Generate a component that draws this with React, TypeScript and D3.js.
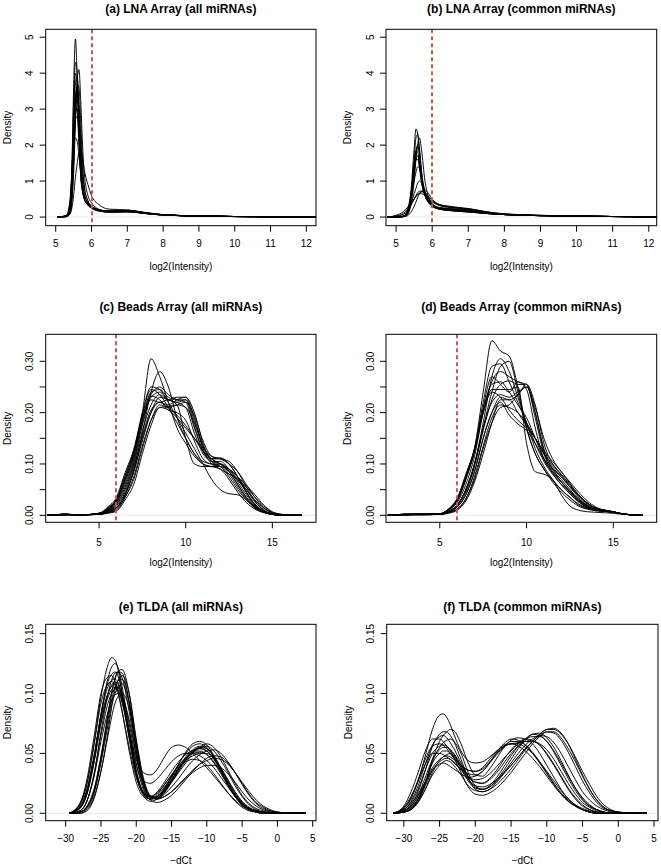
import React from "react";
import * as d3 from "d3";

// ---------- Panel (a): LNA Array, all miRNAs ----------
const gridA = [5.05, 5.3, 5.4, 5.45, 5.5, 5.55, 5.6, 5.65, 5.7, 5.75, 5.8, 5.9, 6.0, 6.2, 6.5, 7.0, 7.5, 8.0, 9.0, 10.0, 11.0, 12.3];
const curvesA = [
  [0, 0.02, 0.3, 1.4, 3.6, 4.95, 3.9, 2.2, 1.1, 0.7, 0.5, 0.35, 0.27, 0.18, 0.13, 0.14, 0.1, 0.055, 0.028, 0.014, 0.009, 0.004],
  [0, 0.01, 0.1, 0.4, 1.2, 2.6, 3.8, 4.1, 3.2, 2.0, 1.2, 0.6, 0.4, 0.22, 0.15, 0.15, 0.1, 0.055, 0.028, 0.014, 0.009, 0.004],
  [0, 0.02, 0.3, 1.2, 3.2, 4.3, 4.0, 2.5, 1.2, 0.7, 0.5, 0.33, 0.25, 0.17, 0.14, 0.15, 0.1, 0.055, 0.028, 0.014, 0.009, 0.004],
  [0, 0.03, 0.35, 1.1, 2.5, 3.4, 3.6, 2.6, 1.4, 0.8, 0.55, 0.35, 0.27, 0.18, 0.15, 0.17, 0.11, 0.06, 0.03, 0.015, 0.009, 0.004],
  [0, 0.04, 0.4, 1.2, 2.4, 3.1, 2.9, 2.0, 1.2, 0.75, 0.5, 0.35, 0.27, 0.19, 0.16, 0.18, 0.12, 0.06, 0.03, 0.015, 0.009, 0.004],
  [0, 0.02, 0.2, 0.6, 1.6, 2.8, 3.3, 3.1, 2.2, 1.3, 0.8, 0.45, 0.3, 0.2, 0.16, 0.17, 0.11, 0.06, 0.03, 0.015, 0.009, 0.004],
  [0, 0.03, 0.3, 0.9, 1.9, 2.7, 2.8, 2.3, 1.5, 0.9, 0.6, 0.4, 0.3, 0.2, 0.17, 0.19, 0.12, 0.065, 0.03, 0.015, 0.009, 0.004],
  [0, 0.01, 0.08, 0.25, 0.6, 1.1, 1.5, 1.8, 1.85, 1.6, 1.3, 0.9, 0.6, 0.35, 0.22, 0.2, 0.13, 0.07, 0.032, 0.016, 0.01, 0.004],
  [0, 0.05, 0.5, 1.2, 1.9, 2.2, 2.1, 1.7, 1.2, 0.8, 0.55, 0.38, 0.3, 0.2, 0.17, 0.18, 0.12, 0.065, 0.03, 0.015, 0.009, 0.004],
  [0, 0.02, 0.2, 0.8, 2.4, 3.7, 3.9, 3.0, 1.6, 0.9, 0.55, 0.33, 0.25, 0.17, 0.14, 0.15, 0.1, 0.055, 0.028, 0.014, 0.009, 0.004],
  [0, 0.03, 0.25, 0.9, 2.2, 3.3, 3.5, 2.9, 1.8, 1.0, 0.6, 0.38, 0.28, 0.19, 0.16, 0.17, 0.11, 0.06, 0.03, 0.015, 0.009, 0.004],
  [0, 0.01, 0.12, 0.5, 1.5, 2.9, 3.7, 3.6, 2.6, 1.5, 0.85, 0.45, 0.3, 0.2, 0.16, 0.16, 0.105, 0.058, 0.029, 0.015, 0.009, 0.004],
  [0, 0.02, 0.25, 1.0, 2.8, 4.0, 3.7, 2.3, 1.2, 0.75, 0.5, 0.34, 0.26, 0.18, 0.15, 0.16, 0.105, 0.058, 0.029, 0.015, 0.009, 0.004],
  [0, 0.02, 0.2, 0.7, 2.0, 3.2, 3.4, 2.7, 1.6, 0.95, 0.6, 0.38, 0.28, 0.19, 0.16, 0.17, 0.11, 0.06, 0.03, 0.015, 0.009, 0.004],
  [0, 0.03, 0.3, 1.0, 2.2, 2.9, 3.0, 2.4, 1.5, 0.9, 0.6, 0.4, 0.3, 0.2, 0.17, 0.18, 0.12, 0.063, 0.03, 0.015, 0.009, 0.004],
];

// ---------- Panel (b): LNA Array, common miRNAs ----------
const gridB = [4.75, 5.0, 5.2, 5.3, 5.4, 5.5, 5.55, 5.6, 5.65, 5.7, 5.8, 5.9, 6.0, 6.2, 6.5, 7.0, 7.5, 8.0, 9.0, 10.0, 11.0, 12.3];
const curvesB = [
  [0, 0, 0.02, 0.1, 0.6, 1.9, 2.45, 2.3, 1.7, 1.1, 0.6, 0.4, 0.3, 0.22, 0.18, 0.14, 0.1, 0.07, 0.04, 0.025, 0.015, 0.005],
  [0, 0, 0.01, 0.05, 0.3, 1.0, 1.6, 2.05, 2.2, 1.9, 1.0, 0.55, 0.35, 0.22, 0.18, 0.15, 0.1, 0.07, 0.04, 0.025, 0.015, 0.005],
  [0, 0, 0.02, 0.1, 0.5, 1.4, 1.85, 2.0, 1.7, 1.2, 0.65, 0.42, 0.32, 0.23, 0.2, 0.16, 0.1, 0.07, 0.04, 0.025, 0.015, 0.005],
  [0, 0, 0.03, 0.15, 0.6, 1.3, 1.6, 1.7, 1.5, 1.1, 0.65, 0.45, 0.33, 0.25, 0.22, 0.18, 0.11, 0.07, 0.04, 0.025, 0.015, 0.005],
  [0, 0, 0.03, 0.12, 0.45, 1.0, 1.25, 1.4, 1.35, 1.1, 0.7, 0.45, 0.35, 0.25, 0.22, 0.19, 0.12, 0.07, 0.04, 0.025, 0.015, 0.005],
  [0, 0, 0.02, 0.08, 0.3, 0.65, 0.8, 0.95, 1.0, 0.95, 0.7, 0.5, 0.37, 0.27, 0.24, 0.2, 0.12, 0.07, 0.04, 0.025, 0.015, 0.005],
  [0, 0.05, 0.15, 0.25, 0.38, 0.5, 0.57, 0.63, 0.67, 0.7, 0.68, 0.58, 0.47, 0.35, 0.28, 0.22, 0.14, 0.08, 0.045, 0.03, 0.015, 0.005],
  [0, 0.03, 0.1, 0.2, 0.35, 0.5, 0.58, 0.63, 0.65, 0.65, 0.6, 0.5, 0.42, 0.32, 0.27, 0.24, 0.15, 0.09, 0.05, 0.03, 0.015, 0.005],
  [0, 0, 0.01, 0.03, 0.12, 0.3, 0.42, 0.55, 0.65, 0.72, 0.75, 0.65, 0.5, 0.35, 0.3, 0.23, 0.14, 0.08, 0.045, 0.03, 0.015, 0.005],
  [0, 0, 0.01, 0.06, 0.45, 1.6, 2.2, 2.3, 1.9, 1.3, 0.65, 0.4, 0.3, 0.22, 0.18, 0.14, 0.1, 0.07, 0.04, 0.025, 0.015, 0.005],
  [0, 0, 0.02, 0.1, 0.55, 1.5, 1.85, 1.8, 1.4, 1.0, 0.6, 0.42, 0.33, 0.24, 0.21, 0.16, 0.1, 0.07, 0.04, 0.025, 0.015, 0.005],
  [0, 0, 0.015, 0.08, 0.4, 1.2, 1.7, 1.95, 1.8, 1.3, 0.7, 0.45, 0.33, 0.24, 0.2, 0.17, 0.11, 0.07, 0.04, 0.025, 0.015, 0.005],
  [0, 0, 0.02, 0.1, 0.5, 1.3, 1.6, 1.6, 1.35, 1.0, 0.6, 0.42, 0.33, 0.24, 0.21, 0.17, 0.11, 0.07, 0.04, 0.025, 0.015, 0.005],
  [0, 0.02, 0.08, 0.15, 0.3, 0.5, 0.6, 0.68, 0.72, 0.72, 0.66, 0.55, 0.45, 0.33, 0.27, 0.22, 0.14, 0.085, 0.045, 0.03, 0.015, 0.005],
];

// ---------- Panel (c): Beads Array, all miRNAs ----------
const gridC = [2.0, 3.0, 4.0, 5.0, 5.5, 6.0, 6.5, 7.0, 7.5, 8.0, 8.5, 9.0, 9.5, 10.0, 10.5, 11.0, 11.5, 12.0, 12.5, 13.0, 13.5, 14.0, 14.5, 15.0, 15.5, 16.0, 16.7];
const curvesC = [
  [0, 0.002, 0.001, 0.004, 0.014, 0.03, 0.07, 0.12, 0.2, 0.305, 0.27, 0.22, 0.17, 0.14, 0.115, 0.1, 0.095, 0.09, 0.07, 0.045, 0.025, 0.012, 0.005, 0.002, 0, 0, 0],
  [0, 0.002, 0.001, 0.003, 0.007, 0.015, 0.04, 0.09, 0.16, 0.24, 0.28, 0.25, 0.19, 0.15, 0.12, 0.105, 0.1, 0.095, 0.075, 0.05, 0.03, 0.014, 0.006, 0.002, 0, 0, 0],
  [0, 0.002, 0.001, 0.004, 0.016, 0.035, 0.083, 0.128, 0.2, 0.25, 0.245, 0.225, 0.22, 0.21, 0.16, 0.12, 0.105, 0.1, 0.085, 0.06, 0.035, 0.015, 0.006, 0.002, 0, 0, 0],
  [0, 0.002, 0.001, 0.003, 0.011, 0.025, 0.065, 0.115, 0.185, 0.24, 0.245, 0.23, 0.225, 0.225, 0.175, 0.125, 0.105, 0.105, 0.09, 0.065, 0.04, 0.018, 0.007, 0.002, 0, 0, 0],
  [0, 0.002, 0.001, 0.003, 0.009, 0.02, 0.05, 0.1, 0.165, 0.215, 0.235, 0.225, 0.23, 0.23, 0.19, 0.135, 0.11, 0.11, 0.1, 0.075, 0.045, 0.02, 0.008, 0.002, 0, 0, 0],
  [0, 0.001, 0.001, 0.002, 0.005, 0.01, 0.035, 0.07, 0.13, 0.185, 0.215, 0.21, 0.215, 0.22, 0.195, 0.145, 0.115, 0.11, 0.105, 0.085, 0.055, 0.028, 0.011, 0.003, 0.001, 0, 0],
  [0, 0.001, 0.001, 0.002, 0.004, 0.008, 0.03, 0.06, 0.12, 0.175, 0.21, 0.205, 0.19, 0.17, 0.15, 0.13, 0.115, 0.11, 0.1, 0.085, 0.06, 0.035, 0.015, 0.005, 0.001, 0, 0],
  [0, 0.002, 0.001, 0.003, 0.011, 0.025, 0.06, 0.11, 0.18, 0.23, 0.24, 0.22, 0.19, 0.16, 0.13, 0.1, 0.07, 0.05, 0.042, 0.04, 0.03, 0.016, 0.006, 0.002, 0, 0, 0],
  [0, 0.002, 0.001, 0.004, 0.013, 0.03, 0.075, 0.125, 0.19, 0.225, 0.22, 0.225, 0.215, 0.15, 0.1, 0.095, 0.095, 0.1, 0.09, 0.07, 0.045, 0.022, 0.009, 0.003, 0.001, 0, 0],
  [0, 0.001, 0.001, 0.002, 0.007, 0.015, 0.04, 0.085, 0.145, 0.2, 0.23, 0.225, 0.22, 0.225, 0.185, 0.13, 0.1, 0.09, 0.08, 0.07, 0.055, 0.035, 0.018, 0.006, 0.002, 0, 0],
  [0, 0.001, 0.001, 0.003, 0.008, 0.018, 0.045, 0.095, 0.155, 0.205, 0.22, 0.21, 0.195, 0.175, 0.15, 0.125, 0.11, 0.1, 0.09, 0.075, 0.058, 0.04, 0.02, 0.007, 0.002, 0, 0],
  [0, 0.002, 0.001, 0.003, 0.012, 0.028, 0.07, 0.12, 0.19, 0.232, 0.225, 0.205, 0.2, 0.185, 0.145, 0.11, 0.1, 0.1, 0.085, 0.06, 0.035, 0.016, 0.006, 0.002, 0, 0, 0],
  [0, 0.002, 0.001, 0.003, 0.01, 0.022, 0.055, 0.105, 0.175, 0.235, 0.25, 0.235, 0.225, 0.22, 0.17, 0.125, 0.11, 0.112, 0.1, 0.075, 0.045, 0.02, 0.008, 0.002, 0, 0, 0],
  [0, 0.001, 0.001, 0.002, 0.006, 0.014, 0.04, 0.085, 0.15, 0.2, 0.22, 0.215, 0.225, 0.23, 0.2, 0.14, 0.105, 0.095, 0.09, 0.075, 0.05, 0.026, 0.01, 0.003, 0.001, 0, 0],
  [0, 0.002, 0.001, 0.004, 0.014, 0.032, 0.078, 0.125, 0.195, 0.245, 0.235, 0.21, 0.18, 0.15, 0.12, 0.1, 0.095, 0.095, 0.08, 0.055, 0.032, 0.015, 0.006, 0.002, 0, 0, 0],
  [0, 0.001, 0.001, 0.002, 0.005, 0.012, 0.035, 0.075, 0.135, 0.185, 0.21, 0.212, 0.215, 0.21, 0.18, 0.135, 0.11, 0.1, 0.085, 0.068, 0.05, 0.03, 0.014, 0.005, 0.001, 0, 0],
];

// ---------- Panel (d): Beads Array, common miRNAs ----------
const gridD = [2.0, 3.0, 4.0, 5.0, 5.5, 6.0, 6.5, 7.0, 7.5, 8.0, 8.5, 9.0, 9.5, 10.0, 10.5, 11.0, 11.5, 12.0, 12.5, 13.0, 13.5, 14.0, 14.5, 15.0, 15.5, 16.0, 16.7];
const curvesD = [
  [0, 0.002, 0.003, 0.003, 0.012, 0.03, 0.075, 0.13, 0.24, 0.34, 0.32, 0.31, 0.25, 0.17, 0.12, 0.09, 0.065, 0.045, 0.03, 0.018, 0.012, 0.009, 0.008, 0.006, 0.003, 0.001, 0],
  [0, 0.002, 0.002, 0.003, 0.008, 0.02, 0.05, 0.1, 0.18, 0.27, 0.305, 0.28, 0.23, 0.18, 0.13, 0.095, 0.07, 0.05, 0.035, 0.02, 0.013, 0.009, 0.008, 0.006, 0.003, 0.001, 0],
  [0, 0.002, 0.002, 0.003, 0.012, 0.033, 0.08, 0.13, 0.22, 0.29, 0.295, 0.26, 0.22, 0.18, 0.14, 0.105, 0.08, 0.06, 0.042, 0.027, 0.016, 0.01, 0.008, 0.006, 0.003, 0.001, 0],
  [0, 0.002, 0.002, 0.003, 0.01, 0.025, 0.06, 0.115, 0.2, 0.26, 0.28, 0.27, 0.26, 0.255, 0.19, 0.12, 0.085, 0.065, 0.048, 0.03, 0.018, 0.011, 0.008, 0.006, 0.003, 0.001, 0],
  [0, 0.001, 0.002, 0.002, 0.007, 0.018, 0.045, 0.095, 0.165, 0.225, 0.255, 0.262, 0.255, 0.255, 0.2, 0.13, 0.095, 0.075, 0.055, 0.035, 0.02, 0.012, 0.009, 0.007, 0.003, 0.001, 0],
  [0, 0.002, 0.002, 0.003, 0.01, 0.028, 0.07, 0.125, 0.2, 0.245, 0.245, 0.245, 0.25, 0.14, 0.085, 0.08, 0.07, 0.04, 0.018, 0.01, 0.007, 0.006, 0.005, 0.004, 0.002, 0.001, 0],
  [0, 0.001, 0.002, 0.002, 0.006, 0.016, 0.04, 0.085, 0.15, 0.2, 0.22, 0.195, 0.178, 0.165, 0.14, 0.11, 0.09, 0.075, 0.055, 0.038, 0.024, 0.014, 0.01, 0.007, 0.003, 0.001, 0],
  [0, 0.001, 0.002, 0.002, 0.007, 0.02, 0.05, 0.1, 0.17, 0.22, 0.235, 0.23, 0.24, 0.25, 0.2, 0.125, 0.09, 0.07, 0.05, 0.032, 0.019, 0.011, 0.008, 0.006, 0.003, 0.001, 0],
  [0, 0.001, 0.001, 0.002, 0.005, 0.012, 0.032, 0.07, 0.13, 0.18, 0.21, 0.215, 0.235, 0.25, 0.21, 0.15, 0.11, 0.085, 0.065, 0.045, 0.028, 0.016, 0.01, 0.007, 0.003, 0.001, 0],
  [0, 0.002, 0.002, 0.003, 0.012, 0.033, 0.078, 0.13, 0.2, 0.24, 0.23, 0.205, 0.185, 0.17, 0.15, 0.12, 0.09, 0.065, 0.045, 0.03, 0.018, 0.011, 0.008, 0.006, 0.003, 0.001, 0],
  [0, 0.002, 0.002, 0.003, 0.01, 0.028, 0.07, 0.125, 0.21, 0.27, 0.255, 0.24, 0.26, 0.245, 0.17, 0.11, 0.085, 0.065, 0.045, 0.028, 0.016, 0.01, 0.008, 0.006, 0.003, 0.001, 0],
  [0, 0.001, 0.001, 0.002, 0.004, 0.01, 0.028, 0.065, 0.12, 0.18, 0.225, 0.225, 0.2, 0.175, 0.15, 0.125, 0.105, 0.085, 0.062, 0.04, 0.024, 0.014, 0.01, 0.007, 0.003, 0.001, 0],
  [0, 0.001, 0.002, 0.002, 0.008, 0.02, 0.05, 0.1, 0.17, 0.24, 0.29, 0.3, 0.24, 0.17, 0.12, 0.09, 0.068, 0.05, 0.035, 0.022, 0.014, 0.01, 0.008, 0.006, 0.003, 0.001, 0],
  [0, 0.001, 0.002, 0.002, 0.006, 0.016, 0.04, 0.085, 0.15, 0.2, 0.23, 0.225, 0.235, 0.255, 0.215, 0.14, 0.1, 0.078, 0.058, 0.038, 0.022, 0.013, 0.009, 0.007, 0.003, 0.001, 0],
  [0, 0.002, 0.002, 0.003, 0.011, 0.03, 0.072, 0.125, 0.205, 0.255, 0.26, 0.24, 0.215, 0.19, 0.15, 0.11, 0.082, 0.06, 0.042, 0.026, 0.015, 0.01, 0.008, 0.006, 0.003, 0.001, 0],
  [0, 0.001, 0.001, 0.002, 0.005, 0.012, 0.032, 0.075, 0.135, 0.19, 0.215, 0.21, 0.2, 0.18, 0.15, 0.12, 0.1, 0.08, 0.06, 0.04, 0.024, 0.014, 0.01, 0.007, 0.003, 0.001, 0],
];

// ---------- Panel (e): TLDA, all miRNAs ----------
const gridE = [-29.5, -28, -27, -26, -25, -24, -23.5, -23, -22.5, -22, -21, -20, -19, -18, -17, -16, -15, -14, -13, -12, -11, -10, -9, -8, -7, -6, -5, -4, -3, -2, -1, 0, 2, 4];
const curvesE = [
  [0, 0.008, 0.025, 0.058, 0.097, 0.124, 0.13, 0.128, 0.118, 0.1, 0.062, 0.032, 0.016, 0.012, 0.015, 0.022, 0.03, 0.038, 0.044, 0.048, 0.05, 0.05, 0.046, 0.038, 0.028, 0.018, 0.01, 0.005, 0.002, 0.001, 0, 0, 0, 0],
  [0, 0.005, 0.018, 0.045, 0.082, 0.113, 0.122, 0.125, 0.12, 0.106, 0.07, 0.036, 0.017, 0.012, 0.014, 0.02, 0.028, 0.037, 0.045, 0.051, 0.054, 0.052, 0.046, 0.036, 0.025, 0.015, 0.008, 0.004, 0.002, 0.001, 0, 0, 0, 0],
  [0, 0.001, 0.006, 0.02, 0.048, 0.083, 0.1, 0.112, 0.118, 0.117, 0.092, 0.052, 0.024, 0.013, 0.014, 0.021, 0.031, 0.041, 0.05, 0.056, 0.058, 0.055, 0.047, 0.036, 0.024, 0.014, 0.007, 0.003, 0.001, 0, 0, 0, 0, 0],
  [0, 0, 0.002, 0.012, 0.035, 0.068, 0.088, 0.103, 0.112, 0.115, 0.1, 0.062, 0.03, 0.015, 0.013, 0.018, 0.026, 0.035, 0.044, 0.051, 0.055, 0.056, 0.052, 0.044, 0.034, 0.023, 0.014, 0.007, 0.003, 0.001, 0, 0, 0, 0],
  [0, 0.006, 0.02, 0.048, 0.08, 0.1, 0.106, 0.108, 0.104, 0.094, 0.068, 0.045, 0.034, 0.032, 0.037, 0.047, 0.055, 0.057, 0.055, 0.05, 0.044, 0.038, 0.031, 0.024, 0.017, 0.011, 0.006, 0.003, 0.001, 0, 0, 0, 0, 0],
  [0, 0.004, 0.016, 0.042, 0.076, 0.1, 0.107, 0.11, 0.107, 0.097, 0.068, 0.04, 0.027, 0.025, 0.029, 0.036, 0.043, 0.048, 0.05, 0.05, 0.048, 0.044, 0.038, 0.03, 0.022, 0.014, 0.008, 0.004, 0.002, 0.001, 0, 0, 0, 0],
  [0, 0.002, 0.01, 0.03, 0.06, 0.085, 0.094, 0.099, 0.1, 0.097, 0.078, 0.048, 0.025, 0.014, 0.012, 0.014, 0.018, 0.023, 0.029, 0.034, 0.038, 0.04, 0.04, 0.038, 0.033, 0.026, 0.018, 0.011, 0.006, 0.003, 0.001, 0, 0, 0],
  [0, 0.004, 0.016, 0.045, 0.082, 0.106, 0.111, 0.112, 0.108, 0.096, 0.064, 0.032, 0.015, 0.01, 0.012, 0.02, 0.03, 0.041, 0.051, 0.058, 0.06, 0.057, 0.048, 0.036, 0.024, 0.014, 0.007, 0.003, 0.001, 0, 0, 0, 0, 0],
  [0, 0.002, 0.01, 0.032, 0.065, 0.092, 0.1, 0.104, 0.105, 0.1, 0.075, 0.042, 0.02, 0.012, 0.012, 0.016, 0.022, 0.029, 0.037, 0.044, 0.049, 0.052, 0.053, 0.05, 0.043, 0.034, 0.024, 0.015, 0.008, 0.004, 0.002, 0.001, 0, 0],
  [0, 0.008, 0.028, 0.063, 0.1, 0.114, 0.115, 0.11, 0.1, 0.085, 0.052, 0.026, 0.014, 0.012, 0.016, 0.024, 0.032, 0.039, 0.043, 0.045, 0.044, 0.04, 0.033, 0.025, 0.017, 0.01, 0.005, 0.002, 0.001, 0, 0, 0, 0, 0],
  [0, 0.002, 0.01, 0.032, 0.068, 0.1, 0.111, 0.117, 0.118, 0.113, 0.085, 0.048, 0.022, 0.011, 0.009, 0.011, 0.015, 0.021, 0.028, 0.035, 0.041, 0.046, 0.048, 0.047, 0.042, 0.034, 0.025, 0.016, 0.009, 0.005, 0.002, 0.001, 0, 0],
  [0, 0.001, 0.004, 0.016, 0.042, 0.074, 0.09, 0.1, 0.106, 0.108, 0.092, 0.056, 0.026, 0.013, 0.012, 0.017, 0.026, 0.036, 0.045, 0.052, 0.055, 0.054, 0.048, 0.038, 0.027, 0.017, 0.009, 0.004, 0.002, 0.001, 0, 0, 0, 0],
  [0, 0.001, 0.005, 0.018, 0.046, 0.082, 0.1, 0.113, 0.119, 0.12, 0.1, 0.06, 0.028, 0.014, 0.013, 0.018, 0.027, 0.037, 0.046, 0.052, 0.054, 0.052, 0.045, 0.035, 0.024, 0.015, 0.008, 0.004, 0.002, 0.001, 0, 0, 0, 0],
  [0, 0.004, 0.016, 0.042, 0.075, 0.097, 0.103, 0.105, 0.102, 0.092, 0.064, 0.034, 0.017, 0.012, 0.014, 0.019, 0.026, 0.034, 0.042, 0.05, 0.055, 0.058, 0.055, 0.047, 0.036, 0.025, 0.015, 0.008, 0.004, 0.002, 0.001, 0, 0, 0],
  [0, 0.001, 0.005, 0.018, 0.045, 0.078, 0.094, 0.106, 0.111, 0.112, 0.094, 0.057, 0.027, 0.014, 0.013, 0.019, 0.028, 0.038, 0.047, 0.053, 0.056, 0.054, 0.047, 0.037, 0.026, 0.016, 0.009, 0.004, 0.002, 0.001, 0, 0, 0, 0],
  [0, 0.005, 0.018, 0.046, 0.083, 0.11, 0.116, 0.118, 0.113, 0.1, 0.067, 0.035, 0.018, 0.014, 0.017, 0.024, 0.032, 0.04, 0.046, 0.05, 0.051, 0.049, 0.043, 0.034, 0.024, 0.015, 0.008, 0.004, 0.002, 0.001, 0, 0, 0, 0],
  [0, 0, 0.003, 0.013, 0.035, 0.065, 0.08, 0.092, 0.098, 0.1, 0.088, 0.055, 0.027, 0.014, 0.012, 0.014, 0.018, 0.024, 0.03, 0.036, 0.041, 0.044, 0.046, 0.045, 0.041, 0.034, 0.026, 0.018, 0.011, 0.006, 0.003, 0.001, 0, 0],
  [0, 0.007, 0.024, 0.056, 0.092, 0.108, 0.11, 0.107, 0.098, 0.085, 0.055, 0.03, 0.017, 0.014, 0.018, 0.026, 0.035, 0.043, 0.049, 0.052, 0.052, 0.049, 0.042, 0.033, 0.023, 0.014, 0.008, 0.004, 0.002, 0.001, 0, 0, 0, 0],
];

// ---------- Panel (f): TLDA, common miRNAs ----------
const gridF = [-31.5, -30, -29, -28, -27, -26, -25, -24.5, -24, -23.5, -23, -22, -21, -20, -19, -18, -17, -16, -15, -14, -13, -12, -11, -10, -9, -8, -7, -6, -5, -4, -3, -2, -1, 0, 2, 4];
const curvesF = [
  [0, 0.004, 0.012, 0.027, 0.048, 0.07, 0.082, 0.083, 0.08, 0.074, 0.066, 0.052, 0.044, 0.042, 0.043, 0.047, 0.052, 0.056, 0.058, 0.059, 0.06, 0.06, 0.058, 0.053, 0.045, 0.035, 0.025, 0.016, 0.009, 0.005, 0.002, 0.001, 0, 0, 0, 0],
  [0, 0.001, 0.004, 0.012, 0.026, 0.045, 0.06, 0.065, 0.068, 0.07, 0.069, 0.058, 0.042, 0.032, 0.031, 0.037, 0.046, 0.055, 0.061, 0.063, 0.062, 0.058, 0.05, 0.04, 0.03, 0.02, 0.012, 0.007, 0.003, 0.001, 0, 0, 0, 0, 0, 0],
  [0, 0.002, 0.007, 0.018, 0.036, 0.056, 0.066, 0.068, 0.068, 0.065, 0.06, 0.045, 0.03, 0.02, 0.018, 0.02, 0.026, 0.033, 0.04, 0.047, 0.054, 0.06, 0.066, 0.07, 0.071, 0.067, 0.058, 0.045, 0.032, 0.02, 0.011, 0.005, 0.002, 0.001, 0, 0],
  [0, 0.006, 0.018, 0.034, 0.052, 0.062, 0.062, 0.06, 0.056, 0.052, 0.047, 0.04, 0.036, 0.035, 0.038, 0.045, 0.052, 0.057, 0.058, 0.056, 0.052, 0.046, 0.039, 0.031, 0.023, 0.016, 0.01, 0.006, 0.003, 0.001, 0, 0, 0, 0, 0, 0],
  [0, 0.002, 0.006, 0.015, 0.03, 0.045, 0.053, 0.055, 0.055, 0.053, 0.049, 0.038, 0.027, 0.021, 0.02, 0.022, 0.027, 0.034, 0.042, 0.05, 0.057, 0.062, 0.065, 0.064, 0.059, 0.05, 0.039, 0.028, 0.018, 0.011, 0.006, 0.003, 0.001, 0, 0, 0],
  [0, 0.002, 0.006, 0.014, 0.026, 0.038, 0.045, 0.047, 0.048, 0.047, 0.045, 0.038, 0.03, 0.026, 0.025, 0.028, 0.034, 0.042, 0.05, 0.056, 0.06, 0.06, 0.057, 0.05, 0.041, 0.031, 0.021, 0.013, 0.007, 0.003, 0.001, 0, 0, 0, 0, 0],
  [0, 0.003, 0.008, 0.016, 0.026, 0.036, 0.041, 0.042, 0.041, 0.039, 0.037, 0.033, 0.03, 0.031, 0.035, 0.042, 0.049, 0.055, 0.058, 0.058, 0.055, 0.05, 0.043, 0.035, 0.027, 0.019, 0.012, 0.007, 0.004, 0.002, 0.001, 0, 0, 0, 0, 0],
  [0, 0.001, 0.004, 0.012, 0.026, 0.042, 0.05, 0.052, 0.052, 0.05, 0.046, 0.034, 0.022, 0.016, 0.015, 0.017, 0.021, 0.027, 0.034, 0.042, 0.05, 0.058, 0.064, 0.068, 0.067, 0.061, 0.051, 0.039, 0.027, 0.017, 0.009, 0.004, 0.002, 0.001, 0, 0],
  [0, 0.001, 0.003, 0.01, 0.024, 0.043, 0.055, 0.059, 0.061, 0.062, 0.06, 0.05, 0.034, 0.023, 0.02, 0.023, 0.03, 0.039, 0.048, 0.056, 0.062, 0.066, 0.065, 0.06, 0.051, 0.04, 0.029, 0.019, 0.011, 0.006, 0.003, 0.001, 0, 0, 0, 0],
  [0, 0.005, 0.014, 0.027, 0.041, 0.05, 0.05, 0.049, 0.047, 0.045, 0.042, 0.037, 0.033, 0.032, 0.035, 0.042, 0.051, 0.058, 0.062, 0.061, 0.057, 0.05, 0.042, 0.033, 0.024, 0.016, 0.01, 0.006, 0.003, 0.001, 0, 0, 0, 0, 0, 0],
  [0, 0.002, 0.005, 0.012, 0.023, 0.036, 0.043, 0.045, 0.046, 0.045, 0.043, 0.036, 0.028, 0.023, 0.022, 0.024, 0.028, 0.034, 0.04, 0.047, 0.054, 0.06, 0.065, 0.068, 0.068, 0.063, 0.054, 0.043, 0.031, 0.02, 0.011, 0.005, 0.002, 0.001, 0, 0],
  [0, 0.003, 0.009, 0.02, 0.036, 0.05, 0.056, 0.057, 0.056, 0.053, 0.05, 0.04, 0.031, 0.028, 0.029, 0.033, 0.039, 0.046, 0.052, 0.058, 0.062, 0.064, 0.064, 0.06, 0.052, 0.042, 0.031, 0.021, 0.013, 0.007, 0.003, 0.001, 0, 0, 0, 0],
  [0, 0.003, 0.01, 0.023, 0.041, 0.057, 0.064, 0.065, 0.063, 0.059, 0.054, 0.042, 0.031, 0.026, 0.025, 0.029, 0.036, 0.045, 0.053, 0.059, 0.062, 0.061, 0.057, 0.049, 0.04, 0.03, 0.02, 0.012, 0.006, 0.003, 0.001, 0, 0, 0, 0, 0],
  [0, 0.001, 0.003, 0.009, 0.02, 0.034, 0.044, 0.047, 0.049, 0.05, 0.048, 0.04, 0.029, 0.022, 0.02, 0.022, 0.028, 0.036, 0.045, 0.054, 0.061, 0.066, 0.067, 0.063, 0.055, 0.044, 0.032, 0.021, 0.012, 0.006, 0.003, 0.001, 0, 0, 0, 0],
  [0, 0.004, 0.013, 0.028, 0.045, 0.056, 0.058, 0.057, 0.054, 0.05, 0.046, 0.04, 0.036, 0.035, 0.037, 0.043, 0.05, 0.056, 0.06, 0.06, 0.057, 0.051, 0.043, 0.034, 0.025, 0.017, 0.011, 0.006, 0.003, 0.001, 0, 0, 0, 0, 0, 0],
  [0, 0.001, 0.004, 0.01, 0.02, 0.032, 0.04, 0.043, 0.044, 0.043, 0.04, 0.032, 0.023, 0.019, 0.018, 0.02, 0.024, 0.03, 0.037, 0.045, 0.053, 0.06, 0.066, 0.07, 0.07, 0.066, 0.058, 0.047, 0.035, 0.024, 0.014, 0.007, 0.003, 0.001, 0, 0],
];

// ---------- Tick values ----------
const ticksLnaX = [5, 6, 7, 8, 9, 10, 11, 12];
const ticksLnaY = [0, 1, 2, 3, 4, 5];
const ticksBeadsX = [5, 10, 15];
const ticksBeadsY = [0, 0.05, 0.1, 0.15, 0.2, 0.25, 0.3];
const labelsBeadsY = [0, 0.1, 0.2, 0.3];
const ticksTldaX = [-30, -25, -20, -15, -10, -5, 0, 5];
const ticksTldaY = [0, 0.05, 0.1, 0.15];
const cutoffLna = 6;

const FONT = "'Liberation Sans', Arial, Helvetica, sans-serif";

type Cfg = {
  id: string;
  title: string;
  xlab: string;
  grid: number[];
  curves: number[][];
  box: [number, number, number, number];
  xDomain: [number, number];
  yDomain: [number, number];
  xTicks: number[];
  yTicks: number[];
  yLabels: number[];
  yFmt: (v: number) => string;
  titleY: number;
  tickLabelY: number;
  xlabY: number;
  cutoff?: number;
};

const fInt = d3.format("d");
const f2 = d3.format(".2f");

const panels: Cfg[] = [
  { id: "a", title: "(a) LNA Array (all miRNAs)", xlab: "log2(Intensity)", grid: gridA, curves: curvesA,
    box: [45.7, 316, 29.3, 225.7], xDomain: [4.72, 12.27], yDomain: [-0.24, 5.22],
    xTicks: ticksLnaX, yTicks: ticksLnaY, yLabels: ticksLnaY, yFmt: fInt,
    titleY: 8.5, tickLabelY: 243, xlabY: 266, cutoff: cutoffLna },
  { id: "b", title: "(b) LNA Array (common miRNAs)", xlab: "log2(Intensity)", grid: gridB, curves: curvesB,
    box: [386, 656.7, 29.3, 225.7], xDomain: [4.72, 12.22], yDomain: [-0.24, 5.22],
    xTicks: ticksLnaX, yTicks: ticksLnaY, yLabels: ticksLnaY, yFmt: fInt,
    titleY: 8.5, tickLabelY: 243, xlabY: 266, cutoff: cutoffLna },
  { id: "c", title: "(c) Beads Array (all miRNAs)", xlab: "log2(Intensity)", grid: gridC, curves: curvesC,
    box: [45.7, 316, 334.3, 522.3], xDomain: [1.92, 17.52], yDomain: [-0.0136, 0.3526],
    xTicks: ticksBeadsX, yTicks: ticksBeadsY, yLabels: labelsBeadsY, yFmt: f2,
    titleY: 306.7, tickLabelY: 542.3, xlabY: 562.7, cutoff: cutoffLna },
  { id: "d", title: "(d) Beads Array (common miRNAs)", xlab: "log2(Intensity)", grid: gridD, curves: curvesD,
    box: [386, 656.7, 334.3, 522.3], xDomain: [1.9, 17.5], yDomain: [-0.0136, 0.3526],
    xTicks: ticksBeadsX, yTicks: ticksBeadsY, yLabels: labelsBeadsY, yFmt: f2,
    titleY: 306.5, tickLabelY: 542.3, xlabY: 562.7, cutoff: cutoffLna },
  { id: "e", title: "(e) TLDA (all miRNAs)", xlab: "\u2212dCt", grid: gridE, curves: curvesE,
    box: [45.7, 316, 624.3, 820.7], xDomain: [-32.83, 5.47], yDomain: [-0.0062, 0.1578],
    xTicks: ticksTldaX, yTicks: ticksTldaY, yLabels: ticksTldaY, yFmt: f2,
    titleY: 607, tickLabelY: 838, xlabY: 860.3 },
  { id: "f", title: "(f) TLDA (common miRNAs)", xlab: "\u2212dCt", grid: gridF, curves: curvesF,
    box: [386.7, 658, 624.3, 820.7], xDomain: [-32.4, 5.56], yDomain: [-0.0062, 0.1578],
    xTicks: ticksTldaX, yTicks: ticksTldaY, yLabels: ticksTldaY, yFmt: f2,
    titleY: 607, tickLabelY: 838, xlabY: 860.3 },
];

function Panel({ cfg }: { cfg: Cfg }) {
  const [x0, x1, y0, y1] = cfg.box;
  const x = d3.scaleLinear().domain(cfg.xDomain).range([x0, x1]);
  const y = d3.scaleLinear().domain(cfg.yDomain).range([y1, y0]);
  const line = d3
    .line<number>()
    .x((_, i) => x(cfg.grid[i]))
    .y((d) => y(d))
    .curve(d3.curveMonotoneX);
  const clipId = `clip-${cfg.id}`;
  const cx = (x0 + x1) / 2;
  const cy = (y0 + y1) / 2;
  const tick = 6;
  const cutX = cfg.cutoff !== undefined ? Math.round(x(cfg.cutoff)) : 0;
  return (
    <g>
      <defs>
        <clipPath id={clipId}>
          <rect x={x0} y={y0} width={x1 - x0} height={y1 - y0} />
        </clipPath>
      </defs>
      <text x={cx} y={cfg.titleY} textAnchor="middle" dominantBaseline="central"
        fontFamily={FONT} fontWeight="bold" fontSize={12}>{cfg.title}</text>
      <g clipPath={`url(#${clipId})`}>
        <line x1={x0} x2={x1} y1={y(0)} y2={y(0)} stroke="#d8d8d8" strokeWidth={0.6} />
        {cfg.curves.map((c, i) => (
          <path key={i} d={line(c) || ""} fill="none" stroke="#000" strokeWidth={0.95} strokeLinejoin="round" />
        ))}
        {cfg.cutoff !== undefined && (
          <line x1={cutX} x2={cutX} y1={y0} y2={y1}
            stroke="#cd5a46" strokeWidth={2} strokeDasharray="4,3" />
        )}
      </g>
      <rect x={x0} y={y0} width={x1 - x0} height={y1 - y0} fill="none" stroke="#000" strokeWidth={1} />
      {cfg.xTicks.map((t) => (
        <g key={`xt${t}`}>
          <line x1={x(t)} x2={x(t)} y1={y1} y2={y1 + tick} stroke="#000" strokeWidth={1} />
          <text x={x(t)} y={cfg.tickLabelY} textAnchor="middle" dominantBaseline="central"
            fontFamily={FONT} fontSize={10}>{fInt(t)}</text>
        </g>
      ))}
      {cfg.yTicks.map((t) => (
        <line key={`yt${t}`} x1={x0 - tick} x2={x0} y1={y(t)} y2={y(t)} stroke="#000" strokeWidth={1} />
      ))}
      {cfg.yLabels.map((t) => (
        <text key={`yl${t}`} transform={`translate(${x0 - 16},${y(t)}) rotate(-90)`} textAnchor="middle"
          dominantBaseline="central" fontFamily={FONT} fontSize={10}>{cfg.yFmt(t)}</text>
      ))}
      <text x={cx} y={cfg.xlabY} textAnchor="middle" dominantBaseline="central"
        fontFamily={FONT} fontSize={10}>{cfg.xlab}</text>
      <text transform={`translate(${x0 - 38.5},${cy}) rotate(-90)`} textAnchor="middle"
        dominantBaseline="central" fontFamily={FONT} fontSize={10}>Density</text>
    </g>
  );
}

export default function App() {
  return (
    <div style={{ position: "absolute", left: 0, top: 0 }}>
      <svg width={661} height={867} viewBox="0 0 661 867" style={{ display: "block", background: "#fff" }}>
        <rect x={0} y={0} width={661} height={867} fill="#fff" />
        {panels.map((p) => (
          <Panel key={p.id} cfg={p} />
        ))}
      </svg>
    </div>
  );
}
